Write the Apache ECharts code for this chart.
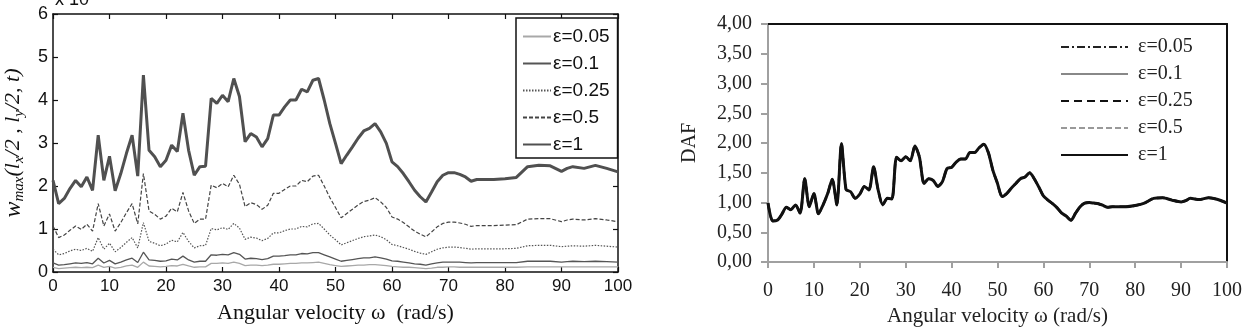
<!DOCTYPE html>
<html>
<head>
<meta charset="utf-8">
<script src="https://cdn.jsdelivr.net/npm/echarts@6/dist/echarts.min.js"></script>
<style>
  html, body { margin: 0; padding: 0; background: #fff; }
  #chart { width: 1255px; height: 332px; }
</style>
</head>
<body>
<div id="chart"></div>
<script>
// angular velocity samples (rad/s)
const omega = [
  0, 1, 2, 3, 4, 5, 6, 7, 8, 9, 10, 11, 12, 13, 14, 15, 16, 17, 18, 19,
  20, 21, 22, 23, 24, 25, 26, 27, 28, 29, 30, 31, 32, 33, 34, 35, 36, 37, 38, 39,
  40, 41, 42, 43, 44, 45, 46, 47, 48, 49, 50, 51, 52, 53, 54, 55, 56, 57, 58, 59,
  60, 61, 62, 63, 64, 65, 66, 67, 68, 69, 70, 71, 72, 73, 74, 75, 76,
  78, 80, 82, 84, 86, 88, 90, 91, 92, 94, 96, 98, 100
];

// left panel: w_max (x 10^-n), one list per eps
const wEps005 = [
  0.11, 0.08, 0.09, 0.10, 0.11, 0.10, 0.11, 0.10, 0.16, 0.11, 0.13, 0.09, 0.11, 0.14, 0.16, 0.11, 0.23, 0.14, 0.13, 0.12,
  0.13, 0.15, 0.14, 0.18, 0.14, 0.11, 0.12, 0.12, 0.20, 0.20, 0.21, 0.20, 0.23, 0.20, 0.15, 0.16, 0.16, 0.15, 0.16, 0.18,
  0.18, 0.19, 0.20, 0.20, 0.21, 0.21, 0.22, 0.23, 0.20, 0.17, 0.15, 0.13, 0.14, 0.15, 0.16, 0.16, 0.17, 0.17, 0.16, 0.15,
  0.13, 0.12, 0.11, 0.11, 0.10, 0.09, 0.08, 0.09, 0.11, 0.11, 0.12, 0.12, 0.11, 0.11, 0.11, 0.11, 0.11,
  0.11, 0.11, 0.11, 0.12, 0.12, 0.12, 0.12, 0.12, 0.12, 0.12, 0.12, 0.12, 0.12
];
const wEps01 = [
  0.21, 0.16, 0.17, 0.19, 0.21, 0.20, 0.22, 0.19, 0.32, 0.21, 0.27, 0.19, 0.23, 0.28, 0.32, 0.22, 0.46, 0.28, 0.27, 0.25,
  0.26, 0.30, 0.28, 0.37, 0.28, 0.23, 0.25, 0.25, 0.40, 0.39, 0.41, 0.40, 0.45, 0.41, 0.30, 0.32, 0.31, 0.29, 0.31, 0.37,
  0.37, 0.38, 0.40, 0.40, 0.43, 0.42, 0.45, 0.45, 0.40, 0.35, 0.30, 0.25, 0.27, 0.29, 0.31, 0.33, 0.33, 0.35, 0.33, 0.30,
  0.26, 0.25, 0.23, 0.21, 0.19, 0.18, 0.16, 0.19, 0.21, 0.23, 0.23, 0.23, 0.23, 0.22, 0.21, 0.22, 0.22,
  0.22, 0.22, 0.22, 0.25, 0.25, 0.25, 0.23, 0.24, 0.25, 0.24, 0.25, 0.24, 0.23
];
const wEps025 = [
  0.53, 0.40, 0.43, 0.49, 0.53, 0.50, 0.55, 0.48, 0.80, 0.53, 0.67, 0.47, 0.57, 0.69, 0.80, 0.56, 1.15, 0.71, 0.67, 0.61,
  0.65, 0.74, 0.70, 0.92, 0.71, 0.56, 0.61, 0.62, 1.01, 0.98, 1.03, 0.99, 1.13, 1.02, 0.76, 0.81, 0.79, 0.73, 0.78, 0.91,
  0.91, 0.96, 1.00, 1.00, 1.06, 1.05, 1.12, 1.13, 1.00, 0.86, 0.75, 0.63, 0.68, 0.73, 0.78, 0.82, 0.84, 0.86, 0.82, 0.75,
  0.64, 0.61, 0.57, 0.53, 0.48, 0.44, 0.41, 0.47, 0.53, 0.56, 0.58, 0.58, 0.57, 0.55, 0.53, 0.54, 0.54,
  0.54, 0.54, 0.55, 0.61, 0.62, 0.62, 0.59, 0.60, 0.61, 0.60, 0.62, 0.60, 0.58
];
const wEps05 = [
  1.07, 0.80, 0.86, 0.97, 1.07, 0.99, 1.11, 0.95, 1.59, 1.07, 1.35, 0.95, 1.15, 1.38, 1.59, 1.12, 2.29, 1.42, 1.34, 1.23,
  1.30, 1.48, 1.40, 1.85, 1.42, 1.13, 1.23, 1.23, 2.02, 1.96, 2.06, 1.98, 2.25, 2.04, 1.52, 1.61, 1.57, 1.46, 1.55, 1.83,
  1.83, 1.92, 2.00, 2.00, 2.13, 2.10, 2.23, 2.25, 2.00, 1.73, 1.50, 1.26, 1.36, 1.46, 1.56, 1.64, 1.67, 1.73, 1.63, 1.50,
  1.28, 1.23, 1.15, 1.05, 0.95, 0.88, 0.82, 0.93, 1.05, 1.13, 1.16, 1.16, 1.14, 1.11, 1.06, 1.08, 1.08,
  1.08, 1.09, 1.10, 1.23, 1.24, 1.24, 1.17, 1.21, 1.23, 1.21, 1.24, 1.21, 1.17
];
const wEps1 = [
  2.13, 1.59, 1.71, 1.94, 2.13, 1.98, 2.21, 1.90, 3.18, 2.13, 2.69, 1.89, 2.29, 2.76, 3.18, 2.23, 4.58, 2.83, 2.68, 2.45,
  2.60, 2.95, 2.80, 3.69, 2.83, 2.25, 2.45, 2.46, 4.04, 3.92, 4.11, 3.96, 4.50, 4.08, 3.03, 3.22, 3.14, 2.91, 3.10, 3.65,
  3.65, 3.84, 4.00, 4.00, 4.25, 4.19, 4.46, 4.50, 4.00, 3.45, 2.99, 2.52, 2.72, 2.91, 3.11, 3.28, 3.34, 3.45, 3.26, 2.99,
  2.56, 2.45, 2.29, 2.10, 1.90, 1.75, 1.63, 1.86, 2.10, 2.25, 2.31, 2.31, 2.27, 2.21, 2.11, 2.15, 2.15,
  2.15, 2.17, 2.20, 2.45, 2.48, 2.47, 2.34, 2.41, 2.45, 2.41, 2.48, 2.41, 2.33
];

// right panel: DAF (same curve for every eps)
const daf = [
  0.99, 0.69, 0.70, 0.80, 0.92, 0.88, 0.96, 0.82, 1.40, 0.93, 1.15, 0.81, 0.96, 1.15, 1.39, 0.96, 1.99, 1.22, 1.18, 1.07,
  1.14, 1.27, 1.21, 1.60, 1.21, 0.96, 1.07, 1.06, 1.76, 1.70, 1.77, 1.70, 1.95, 1.76, 1.32, 1.40, 1.37, 1.27, 1.35, 1.57,
  1.59, 1.68, 1.73, 1.73, 1.84, 1.84, 1.92, 1.98, 1.84, 1.54, 1.32, 1.10, 1.15, 1.24, 1.32, 1.40, 1.43, 1.50, 1.40, 1.26,
  1.11, 1.04, 0.98, 0.91, 0.82, 0.77, 0.70, 0.82, 0.93, 0.99, 1.00, 0.99, 0.98, 0.95, 0.92, 0.93, 0.93,
  0.93, 0.95, 0.99, 1.07, 1.08, 1.04, 1.01, 1.03, 1.07, 1.05, 1.08, 1.05, 0.99
];

const epsNames = ['ε=0.05', 'ε=0.1', 'ε=0.25', 'ε=0.5', 'ε=1'];
const dafTickLabels = ['0,00', '0,50', '1,00', '1,50', '2,00', '2,50', '3,00', '3,50', '4,00'];

const pairs = ys => omega.map((x, i) => [x, ys[i]]);

const sans = 'Liberation Sans, Arial, sans-serif';
const serif = 'Liberation Serif, Times New Roman, serif';

// matlab-ish look for left panel
const leftStyles = [
  { color: '#a8a8a8', width: 1.3, type: 'solid' },
  { color: '#555', width: 1.3, type: 'solid' },
  { color: '#555', width: 1.2, type: [1.5, 1.5] },
  { color: '#444', width: 1.2, type: [4, 2] },
  { color: '#505050', width: 3, type: 'solid' }
];
const leftData = [wEps005, wEps01, wEps025, wEps05, wEps1];

// excel-ish look for right panel
const rightStyles = [
  { color: '#222', width: 1.2, type: [8, 3, 2, 3] },
  { color: '#888', width: 1.2, type: 'solid' },
  { color: '#111', width: 2.5, type: [8, 5] },
  { color: '#999', width: 1.2, type: [6, 3] },
  { color: '#111', width: 3, type: 'solid' }
];

const series = [];
epsNames.forEach((n, i) => {
  series.push({
    name: n, type: 'line', xAxisIndex: 0, yAxisIndex: 0,
    data: pairs(leftData[i]), symbol: 'none', silent: true,
    color: leftStyles[i].color,
    lineStyle: leftStyles[i]
  });
});
epsNames.forEach((n, i) => {
  series.push({
    name: 'DAF ' + n, type: 'line', xAxisIndex: 2, yAxisIndex: 2,
    data: pairs(daf), symbol: 'none', smooth: 0.25, silent: true,
    color: rightStyles[i].color,
    lineStyle: rightStyles[i]
  });
});

const boxAxis = {
  axisLine: { show: true, onZero: false, lineStyle: { color: '#111', width: 1.5 } },
  axisTick: { show: true, inside: true, length: 5, lineStyle: { color: '#111', width: 1.2 } },
  splitLine: { show: false }
};

const option = {
  animation: false,
  backgroundColor: '#fff',
  grid: [
    { left: 53, right: 637, top: 14, bottom: 60 },
    { left: 768, right: 28, top: 24, bottom: 65 }
  ],
  xAxis: [
    Object.assign({}, boxAxis, {
      type: 'value', gridIndex: 0, min: 0, max: 100, interval: 10, position: 'bottom',
      axisLabel: { color: '#111', fontSize: 17, fontFamily: sans, margin: 6 },
      name: 'Angular velocity ω  (rad/s)', nameLocation: 'middle', nameGap: 30,
      nameTextStyle: { color: '#111', fontSize: 22, fontFamily: serif }
    }),
    Object.assign({}, boxAxis, {
      type: 'value', gridIndex: 0, min: 0, max: 100, interval: 10, position: 'top',
      axisLabel: { show: false }
    }),
    {
      type: 'value', gridIndex: 1, min: 0, max: 100, interval: 10, position: 'bottom',
      axisLine: { show: true, onZero: false, lineStyle: { color: '#a0a0a0', width: 2 } },
      axisTick: { show: true, inside: false, length: 6, lineStyle: { color: '#a0a0a0', width: 2 } },
      splitLine: { show: false },
      axisLabel: { color: '#222', fontSize: 20, fontFamily: serif, margin: 19 },
      name: 'Angular velocity ω (rad/s)', nameLocation: 'middle', nameGap: 44,
      nameTextStyle: { color: '#222', fontSize: 21, fontFamily: serif }
    },
    {
      type: 'value', gridIndex: 1, min: 0, max: 100, interval: 10, position: 'top',
      axisLine: { show: true, onZero: false, lineStyle: { color: '#111', width: 2 } },
      axisTick: { show: false }, axisLabel: { show: false }, splitLine: { show: false }
    }
  ],
  yAxis: [
    Object.assign({}, boxAxis, {
      type: 'value', gridIndex: 0, min: 0, max: 6, interval: 1, position: 'left',
      axisLabel: { color: '#111', fontSize: 18, fontFamily: sans, margin: 5 },
      name: '{w|w}{sub|max}{t|(l}{sub|x}{t|/2 , l}{sub|y}{t|/2, t)}',
      nameLocation: 'middle', nameGap: 26, nameRotate: 90,
      nameTextStyle: {
        rich: {
          w: { fontSize: 24, fontFamily: serif, fontStyle: 'italic', color: '#111' },
          t: { fontSize: 22, fontFamily: serif, fontStyle: 'italic', color: '#111' },
          sub: { fontSize: 15, fontFamily: serif, fontStyle: 'italic', color: '#111', verticalAlign: 'bottom', padding: [12, 0, 0, 0] }
        }
      }
    }),
    Object.assign({}, boxAxis, {
      type: 'value', gridIndex: 0, min: 0, max: 6, interval: 1, position: 'right',
      axisLabel: { show: false }
    }),
    {
      type: 'value', gridIndex: 1, min: 0, max: 4, interval: 0.5, position: 'left',
      axisLine: { show: true, onZero: false, lineStyle: { color: '#a0a0a0', width: 2 } },
      axisTick: { show: true, inside: false, length: 7, lineStyle: { color: '#a0a0a0', width: 2 } },
      splitLine: { show: false },
      axisLabel: {
        color: '#222', fontSize: 20, fontFamily: serif, margin: 16,
        formatter: v => dafTickLabels[Math.round(v / 0.5)]
      },
      name: 'DAF', nameLocation: 'middle', nameGap: 68, nameRotate: 90,
      nameTextStyle: { color: '#222', fontSize: 20, fontFamily: serif }
    },
    {
      type: 'value', gridIndex: 1, min: 0, max: 4, interval: 0.5, position: 'right',
      axisLine: { show: true, onZero: false, lineStyle: { color: '#111', width: 2 } },
      axisTick: { show: false }, axisLabel: { show: false }, splitLine: { show: false }
    }
  ],
  legend: [
    {
      data: epsNames, orient: 'vertical', left: 516, top: 18,
      itemWidth: 28, itemHeight: 14, itemGap: 8,
      padding: [9, 8, 4, 6],
      itemStyle: { opacity: 0 },
      borderColor: '#111', borderWidth: 1.5, backgroundColor: '#fff',
      textStyle: { color: '#111', fontSize: 19, fontFamily: sans, padding: [0, 0, 0, -3] },
      selectedMode: false
    },
    {
      data: epsNames.map(n => 'DAF ' + n), orient: 'vertical', left: 1055, top: 32,
      itemWidth: 67, itemHeight: 14, itemGap: 7,
      itemStyle: { opacity: 0 },
      formatter: name => name.replace('DAF ', ''),
      textStyle: { color: '#222', fontSize: 20, fontFamily: serif, padding: [0, 0, 0, 5] },
      selectedMode: false
    }
  ],
  graphic: [
    {
      type: 'text', left: 55, top: -9,
      style: { text: 'x 10', fill: '#111', font: '18px ' + sans }
    }
  ],
  series: series
};

const chart = echarts.init(document.getElementById('chart'));
chart.setOption(option);
</script>
</body>
</html>
